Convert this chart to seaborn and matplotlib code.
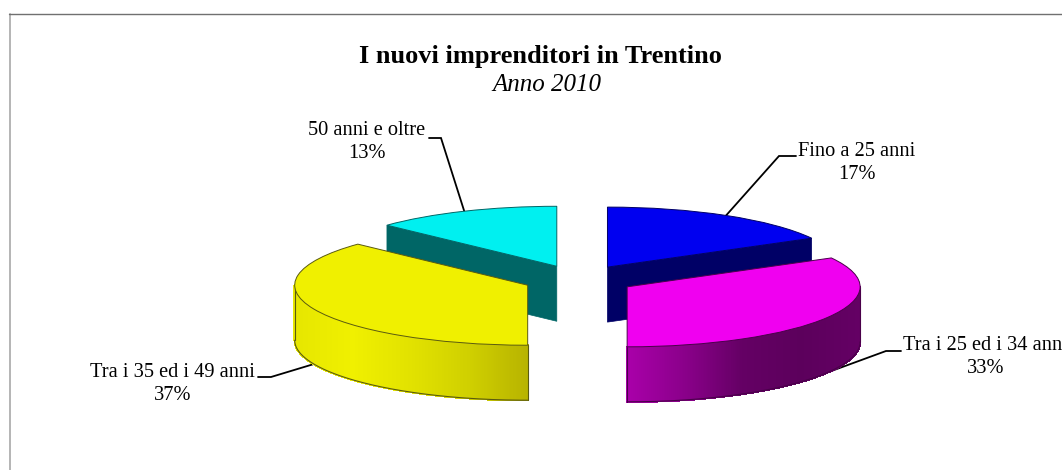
import numpy as np
import matplotlib
matplotlib.use("Agg")
import matplotlib.pyplot as plt
from matplotlib.collections import PolyCollection
from matplotlib.colors import LinearSegmentedColormap
from matplotlib.lines import Line2D
import seaborn as sns

sns.set_theme(style="white")
plt.rcParams["font.family"] = ["Liberation Serif", "DejaVu Serif"]

# --- data ---
categories = ["Fino a 25 anni", "Tra i 25 ed i 34 anni", "Tra i 35 ed i 49 anni", "50 anni e oltre"]
values = [17, 33, 37, 13]
percent_labels = ["17%", "33%", "37%", "13%"]
title_text = "I nuovi imprenditori in Trentino"
subtitle_text = "Anno 2010"

# --- style / layout ---
W, H = 1062, 470
top_colors = ["#0000F0", "#F000F0", "#F0F000", "#00F0F0"]
edge_colors = ["#000066", "#4A004A", "#5A5A10", "#006666"]
cut_colors = ["#000066", None, None, "#006666"]
RX, RY, DEPTH = 233.0, 60.0, 55.0
CX, CY = 579.0, 279.5
EXPLODE = 0.24

fig = plt.figure(figsize=(W / 100, H / 100), dpi=100, facecolor="white")
ax = fig.add_axes([0, 0, 1, 1])
wedges, _ = ax.pie(values, colors=top_colors, explode=[EXPLODE] * len(values), startangle=90,
                   counterclock=False, radius=1.0,
                   wedgeprops=dict(linewidth=0.7, zorder=5))
ax.set_aspect("auto")
ax.set_xlim(-CX / RX, (W - CX) / RX)
ax.set_ylim((CY - H) / RY, CY / RY)
ax.axis("off")
d = DEPTH / RY


def px(x, y):
    """pixel position -> data position"""
    return (x - CX) / RX, (CY - y) / RY


for w, e in zip(wedges, edge_colors):
    w.set_edgecolor(e)

yellow_cmap = LinearSegmentedColormap.from_list("y", ["#E6E600", "#F0F000", "#E2E200", "#D0D000", "#B8B400"])
magenta_cmap = LinearSegmentedColormap.from_list("m", ["#AA00AA", "#8A008A", "#640064", "#5C005C", "#640064"])
wall_cmaps = [None, magenta_cmap, yellow_cmap, None]


def outer_wall(w, cmap):
    cx, cy = w.center
    t = np.radians(np.linspace(w.theta1, w.theta2, 500))
    t = t[np.sin(t) <= 0]
    x = cx + w.r * np.cos(t)
    y = cy + w.r * np.sin(t)
    polys, cols = [], []
    for i in range(len(t) - 1):
        polys.append([(x[i], y[i]), (x[i + 1], y[i + 1]), (x[i + 1], y[i + 1] - d), (x[i], y[i] - d)])
        cols.append(cmap((x[i] - x.min()) / (x.max() - x.min())))
    pc = PolyCollection(polys, facecolors=cols, edgecolors=cols, linewidths=1.0,
                        antialiaseds=False, zorder=3)
    ax.add_collection(pc)
    return x, y


def cut_face(w, color, angle):
    cx, cy = w.center
    ex, ey = cx + w.r * np.cos(np.radians(angle)), cy + w.r * np.sin(np.radians(angle))
    ax.fill([cx, ex, ex, cx], [cy, ey, ey - d, cy - d], facecolor=color, edgecolor=color, lw=0.5, zorder=2)


# back slices: visible radial cut faces
cut_face(wedges[0], cut_colors[0], wedges[0].theta1)
cut_face(wedges[3], cut_colors[3], wedges[3].theta2)
for w in (wedges[0], wedges[3]):
    w.set_zorder(2.5)

# front slices: shaded rim
for i in (1, 2):
    w = wedges[i]
    x, y = outer_wall(w, wall_cmaps[i])
    ax.plot(x, y - d, color=edge_colors[i], lw=0.8, zorder=4)
    for m in (np.argmin(x), np.argmax(x)):
        ax.plot([x[m], x[m]], [y[m], y[m] - d], color=edge_colors[i], lw=0.8, zorder=4)

# leader lines start at each slice's mid-angle on the rim
elbows = [((779, 156), (796, 156)), ((886, 351), (901, 351)), ((271, 377), (258, 377)), ((441, 138), (429, 138))]
for i, (w, (e1, e2)) in enumerate(zip(wedges, elbows)):
    mid = np.radians((w.theta1 + w.theta2) / 2)
    sx = w.center[0] + w.r * np.cos(mid)
    sy = w.center[1] + w.r * np.sin(mid) - (d if i in (1, 2) else 0)
    p1, p2 = px(*e1), px(*e2)
    ax.plot([sx, p1[0], p2[0]], [sy, p1[1], p2[1]], color="black", lw=1.3, zorder=1,
            solid_joinstyle="miter")

# labels (the right-hand one runs off the picture, as in the reference)
label_pos = [(857, 163), (985.5, 357), (172.5, 384), (367, 142)]
for cat, pct, (lx, ly) in zip(categories, percent_labels, label_pos):
    tx, ty = px(lx, ly)
    ax.text(tx, ty, f"{cat}\n{pct}", ha="center", va="center", fontsize=14.7, color="black",
            linespacing=1.32, zorder=6)

tx, ty = px(540, 57)
ax.text(tx, ty, title_text, ha="center", va="center", fontsize=19, fontweight="bold", color="black")
tx, ty = px(546.5, 85)
ax.text(tx, ty, subtitle_text, ha="center", va="center", fontsize=18, fontstyle="italic", color="black")

# chart-area frame (left and top only)
fig.add_artist(Line2D([9.5 / W, 9.5 / W], [1 - 13.5 / H, 0], color="#B4B4B4", lw=1.4))
fig.add_artist(Line2D([9 / W, 1], [1 - 13.5 / H, 1 - 13.5 / H], color="#707070", lw=1.0))

fig.savefig("out.png", dpi=100, facecolor="white")
